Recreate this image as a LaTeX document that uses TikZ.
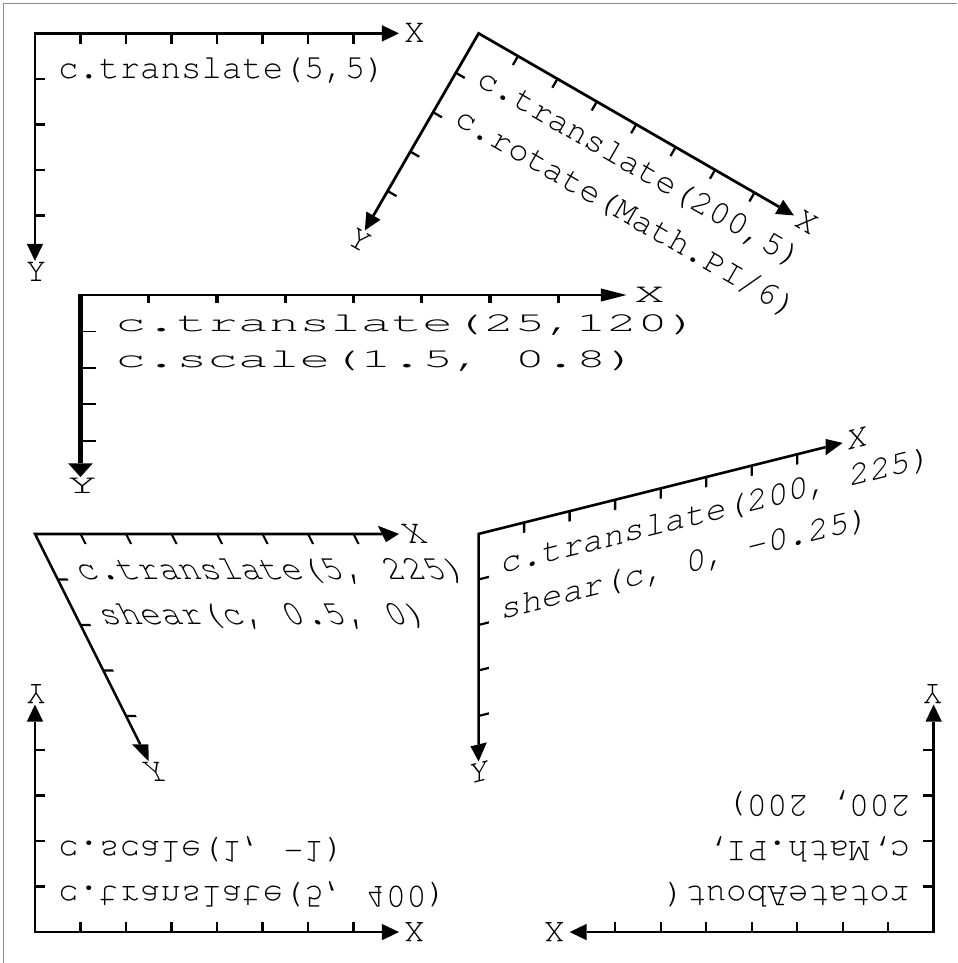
\documentclass[tikz,border=0pt]{standalone}
\usepackage{fontspec}
\setmonofont{texgyrecursor-regular.otf}
% one set of axes in the current (canvas) frame
\newcommand{\drawaxes}{%
  \draw[axisline] (152.5,0) -- (0,0) -- (0,-92.5);
  \fill (160,0) -- (152.5,3.6) -- (152.5,-3.6) -- cycle;
  \fill (0,-100) -- (3.6,-92.5) -- (-3.6,-92.5) -- cycle;
  \foreach \t in {20,40,...,140} {\draw[tickmark] (\t,0) -- (\t,-4.5);}
  \foreach \t in {20,40,60,80} {\draw[tickmark] (0,-\t) -- (4.5,-\t);}
  \node[codetext] (xlabel) at (162,-4) {X};
  \node[codetext,anchor=base] (ylabel) at (0.5,-109) {Y};
}
\begin{document}
\begin{tikzpicture}[x=1pt,y=1pt,
  axisline/.style={line width=1.2pt},
  tickmark/.style={line width=1pt},
  codetext/.style={font=\ttfamily\fontsize{15}{15}\selectfont,inner sep=0pt,anchor=base west}]
\useasboundingbox (-10.37,9.67) rectangle (410.3,-413.6);
\draw[black!45,line width=0.45pt] (-8.9,-413.6) -- (-8.9,8.2) -- (410.3,8.2);
\begin{scope}[name prefix=tr-,transform canvas={shift={(5,-5)}}]
\drawaxes
\node[codetext] (line1) at (10,-20) {c.translate(5,5)};
\end{scope}
\begin{scope}[name prefix=rot-,transform canvas={shift={(200,-5)},rotate=-30}]
\drawaxes
\node[codetext] (line1) at (10,-20) {c.translate(200,5)};
\node[codetext] (line2) at (10,-40) {c.rotate(Math.PI/6)};
\end{scope}
\begin{scope}[name prefix=sc-,transform canvas={shift={(25,-120)},xscale=1.5,yscale=0.8}]
\drawaxes
\node[codetext] (line1) at (10,-20) {c.translate(25,120)};
\node[codetext] (line2) at (10,-40) {c.scale(1.5, 0.8)};
\end{scope}
\begin{scope}[name prefix=shx-,transform canvas={shift={(5,-225)},xslant=-0.5}]
\drawaxes
\node[codetext] (line1) at (10,-20) {c.translate(5, 225)};
\node[codetext] (line2) at (10,-40) {shear(c, 0.5, 0)};
\end{scope}
\begin{scope}[name prefix=shy-,transform canvas={shift={(200,-225)},yslant=0.25}]
\drawaxes
\node[codetext] (line1) at (10,-20) {c.translate(200, 225)};
\node[codetext] (line2) at (10,-40) {shear(c, 0, -0.25)};
\end{scope}
\begin{scope}[name prefix=flip-,transform canvas={shift={(5,-400)},yscale=-1}]
\drawaxes
\node[codetext] (line1) at (10,-20) {c.translate(5, 400)};
\node[codetext] (line2) at (10,-40) {c.scale(1, -1)};
\end{scope}
\begin{scope}[name prefix=ra-,transform canvas={rotate around={180:(200,-200)}}]
\drawaxes
\node[codetext] (line1) at (10,-20) {rotateAbout(};
\node[codetext] (line2) at (10,-40) {c,Math.PI,};
\node[codetext] (line3) at (10,-60) {200, 200)};
\end{scope}
\end{tikzpicture}
\end{document}
